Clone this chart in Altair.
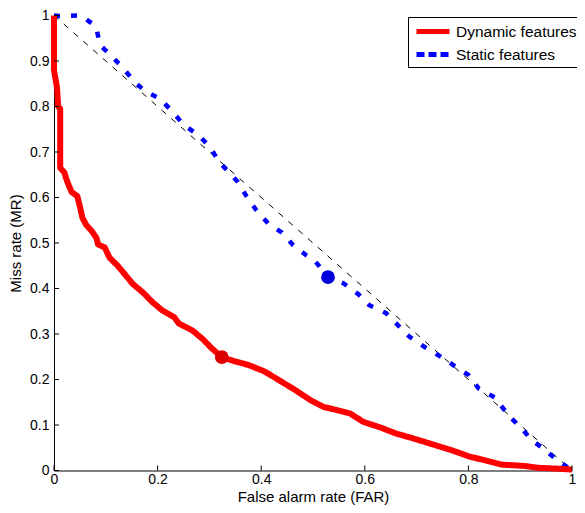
import altair as alt
import pandas as pd

# Dynamic features (red) curve
dyn_far = [0.0, 0.0, 0.003, 0.006, 0.008, 0.012, 0.012, 0.02, 0.024, 0.028, 0.034, 0.045, 0.05, 0.055,
           0.062, 0.073, 0.082, 0.085, 0.098, 0.107, 0.123, 0.139, 0.152, 0.171, 0.19, 0.209, 0.232,
           0.241, 0.267, 0.286, 0.305, 0.324, 0.349, 0.375, 0.406, 0.438, 0.464, 0.496, 0.52, 0.545,
           0.572, 0.597, 0.629, 0.661, 0.686, 0.718, 0.769, 0.801, 0.833, 0.864, 0.909, 0.934, 0.973, 1.0]
dyn_mr = [1.0, 0.88, 0.86, 0.84, 0.80, 0.795, 0.665, 0.655, 0.64, 0.628, 0.612, 0.603, 0.58, 0.555,
          0.54, 0.526, 0.511, 0.497, 0.49, 0.468, 0.45, 0.428, 0.41, 0.392, 0.37, 0.352, 0.337,
          0.323, 0.308, 0.29, 0.268, 0.249, 0.24, 0.232, 0.218, 0.196, 0.178, 0.154, 0.14, 0.133,
          0.125, 0.107, 0.095, 0.081, 0.073, 0.062, 0.044, 0.031, 0.022, 0.013, 0.01, 0.006, 0.004, 0.002]

# Static features (blue) curve
sta_far = [0.0, 0.01, 0.052, 0.081, 0.089, 0.112, 0.136, 0.156, 0.178, 0.205, 0.229, 0.251, 0.279,
           0.302, 0.318, 0.339, 0.355, 0.372, 0.39, 0.414, 0.44, 0.462, 0.487, 0.504, 0.529, 0.558,
           0.588, 0.609, 0.641, 0.666, 0.686, 0.716, 0.744, 0.773, 0.80, 0.82, 0.852, 0.877, 0.9,
           0.922, 0.947, 0.97, 1.0]
sta_mr = [1.0, 0.999, 1.0, 0.976, 0.935, 0.91, 0.881, 0.853, 0.832, 0.817, 0.788, 0.759, 0.737,
          0.71, 0.679, 0.654, 0.634, 0.602, 0.573, 0.542, 0.523, 0.495, 0.473, 0.46, 0.426, 0.412,
          0.387, 0.363, 0.346, 0.317, 0.294, 0.271, 0.252, 0.23, 0.21, 0.18, 0.16, 0.121, 0.096,
          0.067, 0.046, 0.024, 0.0]

# Operating points
op_series = ["Dynamic features", "Static features"]
op_far = [0.324, 0.529]
op_mr = [0.249, 0.425]

# Chance diagonal
diag_far = [0.0, 1.0]
diag_mr = [1.0, 0.0]

x_ticks = [0, 0.2, 0.4, 0.6, 0.8, 1.0]
y_ticks = [0, 0.1, 0.2, 0.3, 0.4, 0.5, 0.6, 0.7, 0.8, 0.9, 1.0]

series_names = ["Dynamic features", "Static features"]

dyn = pd.DataFrame({"far": dyn_far, "mr": dyn_mr, "series": series_names[0], "i": range(len(dyn_far))})
sta = pd.DataFrame({"far": sta_far, "mr": sta_mr, "series": series_names[1], "i": range(len(sta_far))})
diag = pd.DataFrame({"far": diag_far, "mr": diag_mr})
ops = pd.DataFrame({"far": op_far, "mr": op_mr, "series": op_series})
xt = pd.DataFrame({"v": x_ticks})
yt = pd.DataFrame({"v": y_ticks})

FONT = "Liberation Sans"
W, H = 518, 455

xscale = alt.Scale(domain=[0, 1], nice=False, zero=False)
yscale = alt.Scale(domain=[0, 1], nice=False, zero=False)

xaxis = alt.Axis(values=x_ticks, format="~g", title="False alarm rate (FAR)", ticks=False,
                 labelFlush=False, labelPadding=2, titleFontSize=15,
                 titleY=31, titleBaseline="alphabetic",
                 grid=False, domainColor="black", domainWidth=1)
yaxis = alt.Axis(values=y_ticks, format="~g", title="Miss rate (MR)", ticks=False,
                 labelFlush=False, labelPadding=5, titlePadding=6, titleFontSize=15,
                 grid=False, domainColor="black", domainWidth=1)

diag_layer = alt.Chart(diag).mark_line(color="black", strokeWidth=1, strokeDash=[6, 7]).encode(
    x=alt.X("far:Q", scale=xscale, axis=xaxis),
    y=alt.Y("mr:Q", scale=yscale, axis=yaxis),
)

legend = alt.Legend(
    title=None, orient="none", legendX=354, legendY=1.5,
    strokeColor="black", fillColor="white", padding=2,
    symbolType="M-0.6,0H2.7", symbolSize=400, symbolStrokeWidth=5,
    labelFontSize=15.5, labelFont=FONT, labelColor="black",
    labelOffset=21, rowPadding=-6,
)

color_enc = alt.Color("series:N", scale=alt.Scale(domain=series_names, range=["#ff0000", "#0000ff"]),
                      legend=legend)

dyn_layer = alt.Chart(dyn).mark_line(strokeWidth=6, strokeCap="butt", strokeJoin="round").encode(
    x=alt.X("far:Q", scale=xscale),
    y=alt.Y("mr:Q", scale=yscale),
    color=color_enc,
    strokeDash=alt.StrokeDash("series:N",
                              scale=alt.Scale(domain=series_names, range=[[1, 0], [8, 4]]),
                              legend=legend),
    order=alt.Order("i:Q"),
)

sta_layer = alt.Chart(sta).mark_line(strokeWidth=4.5, strokeCap="butt", strokeJoin="round",
                                     strokeDash=[6, 11]).encode(
    x=alt.X("far:Q", scale=xscale),
    y=alt.Y("mr:Q", scale=yscale),
    color=color_enc,
    order=alt.Order("i:Q"),
)

op_layer = alt.Chart(ops).mark_circle(size=190, opacity=1).encode(
    x=alt.X("far:Q", scale=xscale),
    y=alt.Y("mr:Q", scale=yscale),
    fill=alt.Fill("series:N", scale=alt.Scale(domain=series_names, range=["#dd0000", "#0000dd"]),
                  legend=None),
)

xtick_layer = alt.Chart(xt).mark_rule(color="black", strokeWidth=1).encode(
    x=alt.X("v:Q", scale=xscale),
    y=alt.value(H),
    y2=alt.value(H - 5),
)
ytick_layer = alt.Chart(yt).mark_rule(color="black", strokeWidth=1).encode(
    y=alt.Y("v:Q", scale=yscale),
    x=alt.value(0),
    x2=alt.value(5),
)

chart = alt.layer(diag_layer, sta_layer, dyn_layer, op_layer, xtick_layer, ytick_layer).properties(
    width=W, height=H,
    autosize=alt.AutoSizeParams(type="none"),
    padding={"left": 46, "top": 7.5, "right": 5, "bottom": 34.5},
).configure_view(stroke=None).configure_axis(
    labelFont=FONT, labelFontSize=14, labelColor="black",
    titleFont=FONT, titleFontWeight="normal", titleColor="black",
)

chart.save("out.html", embed_options={"renderer": "svg", "actions": False})
